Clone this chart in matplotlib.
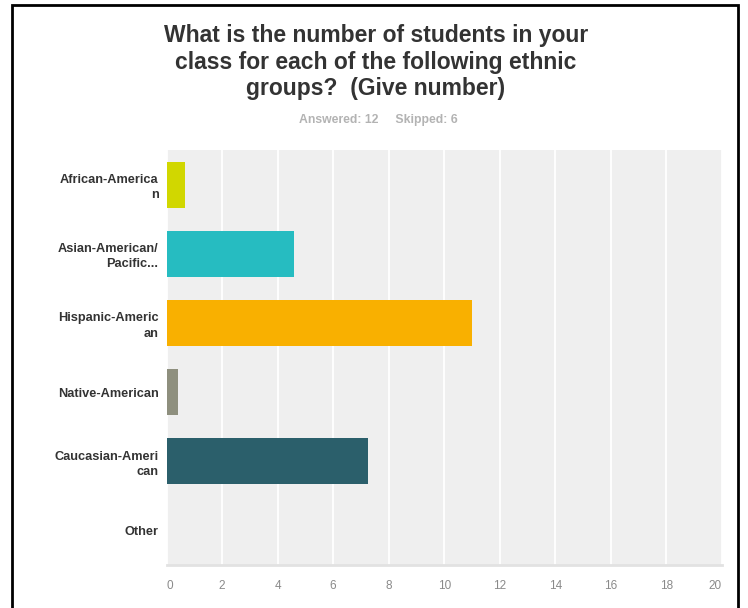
import matplotlib.pyplot as plt
from matplotlib.patches import Rectangle

# survey answers (average number of students per group)
groups = ["African-America\nn", "Asian-American/\nPacific...", "Hispanic-Americ\nan",
          "Native-American", "Caucasian-Ameri\ncan", "Other"]
values = [0.67, 4.6, 11.0, 0.42, 7.25, 0.0]
colors = ["#d1d700", "#26bcc1", "#f9b000", "#8e8f7e", "#2b5f6b", "#c9c9c9"]
xticks = [0, 2, 4, 6, 8, 10, 12, 14, 16, 18, 20]

title = "What is the number of students in your\nclass for each of the following ethnic\ngroups?  (Give number)"
subtitle = "Answered: 12     Skipped: 6"

plt.rcParams['font.family'] = ['Liberation Sans', 'DejaVu Sans']

W, H = 748, 608
fig = plt.figure(figsize=(W / 100, H / 100), dpi=100)
ax = fig.add_axes([166.5 / W, 1 - 565 / H, (722 - 166.5) / W, (565 - 150) / H])

ax.set_facecolor("#efefef")
ax.barh(range(len(groups)), values, height=0.665, color=colors, zorder=3)
ax.set_xlim(0, 20)
ax.set_ylim(len(groups) - 0.5, -0.5)

ax.set_xticks(xticks)
ax.set_xticklabels([str(t) for t in xticks], color="#8a8a8a", fontsize=8.5)
# first and last labels sit inside the plot edges
labels = ax.get_xticklabels()
labels[0].set_ha("left")
labels[-1].set_ha("right")
ax.set_yticks(range(len(groups)))
ax.set_yticklabels(groups, fontsize=9.2, fontweight="bold", color="#333333",
                   linespacing=1.35)
ax.tick_params(axis="both", length=0)
ax.tick_params(axis="x", pad=11)
ax.tick_params(axis="y", pad=5.8)
ax.grid(axis="x", color="white", linewidth=1.3, zorder=1)
for side in ["top", "right", "left"]:
    ax.spines[side].set_visible(False)
ax.spines["bottom"].set_color("#e2e2e2")
ax.spines["bottom"].set_linewidth(2)

fig.text(376 / W, 1 - 62 / H, title, ha="center", va="center", fontsize=16.5,
         fontweight="bold", color="#333333", linespacing=1.22)
fig.text(378 / W, 1 - 120 / H, subtitle, ha="center", va="center", fontsize=8.8,
         fontweight="bold", color="#b3b3b3")

# black frame round the screenshot
fig.patches.append(Rectangle((12 / W, -0.02), (738 - 12) / W, 1 - 5 / H + 0.02,
                             transform=fig.transFigure, fill=False,
                             edgecolor="black", linewidth=2))

fig.savefig("out.png", dpi=100)
